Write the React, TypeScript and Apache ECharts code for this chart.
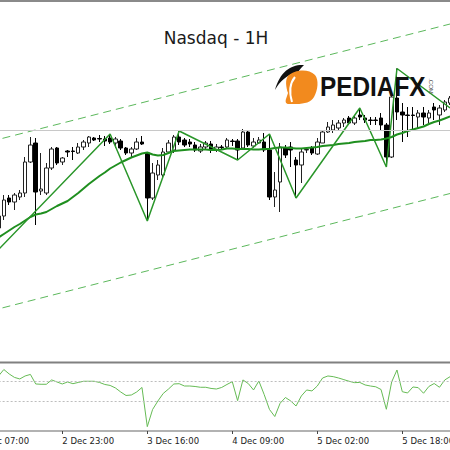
import React, { useEffect, useRef } from "react";
import * as echarts from "echarts";

// ---------- data ----------
const tickLabels = ["2 Dec 07:00", "2 Dec 23:00", "3 Dec 16:00", "4 Dec 09:00", "5 Dec 02:00", "5 Dec 18:00"];

function buildTimes(count: number): string[] {
  const out: string[] = [];
  let d = 2;
  let h = 7;
  while (out.length < count) {
    if (h !== 0) out.push(`${d} Dec ${String(h).padStart(2, "0")}:00`);
    h++;
    if (h === 24) {
      h = 0;
      d++;
    }
  }
  return out;
}
const categories = buildTimes(90);

// [open, close, low, high]
const candles: number[][] = [
  [21038, 21045, 21028.5, 21050], [21045, 21055, 21042, 21058], [21055, 21062, 21052, 21065],
  [21062, 21072, 21060, 21075], [21072, 21084, 21070, 21087], [21084, 21100, 21080, 21105],
  [21102, 21098, 21095, 21105], [21098, 21105, 21090, 21107], [21103, 21107, 21100, 21110],
  [21107, 21138, 21103, 21143], [21138, 21155, 21137, 21163], [21157, 21108, 21075, 21162],
  [21109, 21111, 21105, 21147], [21107, 21132, 21105, 21137], [21132, 21151, 21130, 21153],
  [21152, 21137, 21135, 21153], [21138, 21142, 21135, 21143], [21149, 21148, 21143, 21150],
  [21149, 21148.5, 21140, 21153], [21147, 21153, 21146, 21157], [21153, 21158, 21150, 21160],
  [21157, 21163, 21153, 21164], [21162, 21160, 21159, 21163], [21161.5, 21161, 21158, 21165],
  [21161, 21159, 21154, 21164], [21162, 21158, 21156, 21166], [21157, 21161, 21152, 21163],
  [21159, 21152, 21150, 21161], [21152, 21147, 21145, 21153], [21147, 21151, 21143, 21153],
  [21151, 21158, 21150, 21162], [21158, 21156, 21155, 21164], [21147, 21102, 21079, 21148],
  [21102, 21127, 21100, 21137], [21125, 21135, 21120, 21140], [21125, 21148, 21123, 21152],
  [21148, 21157, 21147, 21160], [21150, 21163, 21147, 21165], [21163, 21158, 21155, 21169],
  [21160, 21155, 21153, 21162], [21158, 21156, 21153, 21161], [21155, 21150, 21148, 21158],
  [21149, 21153, 21147, 21156], [21153, 21157, 21150, 21159], [21156, 21151, 21147, 21159],
  [21150, 21153, 21148, 21156], [21153, 21152.5, 21150, 21155], [21153, 21160, 21151, 21162],
  [21159, 21158.5, 21154, 21161], [21159, 21150, 21140, 21161], [21152, 21168, 21150, 21171],
  [21168, 21155, 21153, 21170], [21154, 21158, 21152, 21162], [21157, 21160, 21156, 21163],
  [21158, 21150, 21148, 21167], [21150, 21103, 21100, 21166], [21103, 21110, 21093, 21128],
  [21118, 21153, 21088, 21157], [21152, 21145, 21142, 21155], [21153, 21150, 21133, 21158],
  [21140, 21135, 21102, 21143], [21135, 21148, 21117, 21152], [21150, 21150.5, 21147, 21153],
  [21152, 21147, 21145, 21154], [21146, 21158, 21145, 21162], [21157, 21168, 21157, 21170],
  [21168, 21173, 21167, 21178], [21170, 21175, 21167, 21180], [21172, 21177, 21170, 21180],
  [21177, 21180, 21173, 21182], [21182, 21177, 21175, 21184], [21177, 21182, 21175, 21185],
  [21185, 21183, 21180, 21192], [21182, 21180, 21177, 21185], [21180, 21179.5, 21175, 21183],
  [21180, 21179.5, 21175, 21183], [21182, 21175, 21170, 21187], [21175, 21143, 21133, 21177],
  [21143, 21203, 21142, 21207], [21202, 21188, 21180, 21231.5], [21188, 21185, 21158, 21197],
  [21185, 21184.5, 21163, 21193], [21185, 21184.5, 21170, 21193], [21183, 21187, 21172, 21190],
  [21187, 21183, 21175, 21193], [21182, 21187, 21177, 21190], [21193, 21190, 21180, 21197],
  [21185, 21192, 21175, 21195], [21190, 21198, 21188, 21200], [21197, 21202, 21195, 21204],
];

const maValues = [
  21049, 21052, 21055, 21059, 21062.5, 21066, 21069.5, 21073, 21076, 21079.5,
  21083, 21085.5, 21086.5, 21088, 21091, 21094, 21096.5, 21099, 21103, 21107,
  21111.5, 21116, 21120, 21124, 21127.5, 21131.5, 21134.5, 21137.5, 21140, 21142.5,
  21144.5, 21146.5, 21147.5, 21145.5, 21144.5, 21145, 21147, 21149, 21149.5, 21150,
  21150.5, 21150.5, 21150.5, 21150.5, 21150, 21150, 21150.5, 21151.5, 21151.5, 21151,
  21151, 21151, 21150.5, 21150.5, 21151, 21151, 21152, 21152.5, 21152.5, 21152,
  21151.5, 21151.5, 21152, 21152.5, 21153, 21154, 21154.5, 21155, 21156, 21156.5,
  21157, 21158, 21158.5, 21159, 21160, 21160, 21160.5, 21161.5, 21163, 21165.5,
  21167, 21169, 21170.5, 21172, 21173.5, 21176, 21178, 21179.5, 21181.5, 21183.5,
];

// zigzag pivots: [bar index, price]
const zigzagPivots: [number, number][] = [
  [0, 21028.5], [25, 21166], [32, 21079], [38, 21169], [49, 21140], [55, 21166],
  [60, 21102], [72, 21192], [77, 21133], [79, 21231.5], [89, 21192],
];

const indicatorValues = [
  72, 74, 71, 73, 75.9, 82.6, 78.0, 74.4, 72.8, 75.9,
  77.5, 67.6, 67.3, 67.3, 71.8, 69.7, 67.6, 69.7, 67.9, 69.2,
  70.4, 70.4, 70.4, 69.2, 67.1, 66.1, 63.5, 59.3, 55.7, 56.2,
  59.3, 64.0, 23.4, 41.2, 50.0, 57.8, 62.4, 67.6, 67.9, 65.5,
  65.5, 65.0, 64.2, 64.2, 63.0, 62.4, 64.0, 67.1, 70.0, 50.3,
  71.8, 68.1, 61.4, 70.7, 56.7, 41.2, 33.9, 47.6, 53.6, 50.0,
  44.8, 55.2, 61.4, 60.4, 65.5, 73.8, 75.9, 75.2, 73.8, 72.1,
  70.4, 69.0, 69.2, 66.6, 65.5, 64.7, 61.9, 41.4, 69.7, 82.1,
  59.6, 58.3, 64.5, 63.8, 58.0, 65.0, 68.1, 64.2, 71.8, 75.2,
];
const indicatorLevels = [70, 50];

const channelUpper = [21155.2, 21276]; // first bar, last bar
const channelLower = [20985.7, 21106.5];
const levelPrice = 21170;

// ---------- logo shapes ----------
const ORANGE_D =
  "M14 14 C20 8 34 6 41 13 C45 18 44 28 40 35 C37 40 31 42 22 42 L15 42 C12 42 11 40 12 37 L14 31 C12 25 11 18 14 14 Z";
const SWOOSH_D =
  "M30 3 C18 2 6 9 1 28 C6 19 13 13 21 11 C16 16 13 23 14 30 C17 20 22 11 30 3 Z";
const CURVE_D = "M21 15 C16 21 15 30 18 40";
echarts.graphic.registerShape("pfxOrange", echarts.graphic.extendPath(ORANGE_D, {}));
echarts.graphic.registerShape("pfxSwoosh", echarts.graphic.extendPath(SWOOSH_D, {}));
echarts.graphic.registerShape("pfxCurve", echarts.graphic.extendPath(CURVE_D, {}));

export default function App() {
  const ref = useRef<HTMLDivElement>(null);
  useEffect(() => {
    if (!ref.current) return;
    const chart = echarts.init(ref.current, null, { renderer: "svg" });
    const last = categories.length - 1;
    const zigzagData = categories.map((_, i) => {
      const p = zigzagPivots.find((z) => z[0] === i);
      return p ? p[1] : "-";
    });
    const showTick = (_i: number, v: string) => tickLabels.includes(v);
    const gridLeft = -25.36;
    const gridWidth = 478.125;

    const option: any = {
      animation: false,
      backgroundColor: "#ffffff",
      grid: [
        { left: gridLeft, width: gridWidth, top: 2, height: 360, outerBoundsMode: "none", containLabel: false },
        { left: gridLeft, width: gridWidth, top: 364, height: 67, outerBoundsMode: "none", containLabel: false },
      ],
      xAxis: [
        { type: "category", gridIndex: 0, data: categories, boundaryGap: true, show: false },
        {
          type: "category",
          gridIndex: 1,
          data: categories,
          boundaryGap: true,
          axisLine: { show: true, lineStyle: { color: "#999999", width: 1.5 } },
          axisTick: { show: true, alignWithLabel: true, interval: showTick, length: 3, lineStyle: { color: "#444444" } },
          axisLabel: {
            interval: showTick,
            align: "left",
            margin: 5,
            fontSize: 8.5,
            fontFamily: "DejaVu Sans",
            color: "#222222",
            hideOverlap: false,
          },
          splitLine: { show: false },
        },
      ],
      yAxis: [
        { type: "value", gridIndex: 0, min: 20938, max: 21298, show: false },
        { type: "value", gridIndex: 1, min: 18.9, max: 88.3, show: false },
      ],
      series: [
        {
          type: "candlestick",
          xAxisIndex: 0,
          yAxisIndex: 0,
          data: candles,
          barWidth: 4,
          itemStyle: {
            color: "#ffffff",
            color0: "#000000",
            borderColor: "#222222",
            borderColor0: "#000000",
            borderWidth: 1,
          },
          markLine: {
            silent: true,
            symbol: "none",
            label: { show: false },
            lineStyle: { color: "#c8c8c8", width: 1, type: "solid" },
            data: [{ yAxis: levelPrice }],
          },
          z: 2,
        },
        {
          type: "line",
          xAxisIndex: 0,
          yAxisIndex: 0,
          data: maValues,
          showSymbol: false,
          lineStyle: { color: "#1f8f1f", width: 2 },
          z: 3,
        },
        {
          type: "line",
          xAxisIndex: 0,
          yAxisIndex: 0,
          data: zigzagData,
          connectNulls: true,
          showSymbol: false,
          lineStyle: { color: "#2a962a", width: 1.5 },
          z: 4,
        },
        {
          type: "line",
          xAxisIndex: 0,
          yAxisIndex: 0,
          data: [[categories[0], channelUpper[0]], [categories[last], channelUpper[1]]],
          showSymbol: false,
          lineStyle: { color: "#5cb85c", width: 1, type: [8, 5] },
          z: 1,
        },
        {
          type: "line",
          xAxisIndex: 0,
          yAxisIndex: 0,
          data: [[categories[0], channelLower[0]], [categories[last], channelLower[1]]],
          showSymbol: false,
          lineStyle: { color: "#5cb85c", width: 1, type: [8, 5] },
          z: 1,
        },
        {
          type: "line",
          xAxisIndex: 1,
          yAxisIndex: 1,
          data: indicatorValues,
          showSymbol: false,
          lineStyle: { color: "#66bb55", width: 1 },
          markLine: {
            silent: true,
            symbol: "none",
            label: { show: false },
            lineStyle: { color: "#bdbdbd", width: 1, type: [2, 2] },
            data: indicatorLevels.map((v) => ({ yAxis: v })),
          },
        },
      ],
      graphic: [
        { type: "line", shape: { x1: 0, y1: 1, x2: 450, y2: 1 }, style: { stroke: "#8a8a8a", lineWidth: 2 }, silent: true },
        { type: "line", shape: { x1: 0, y1: 362.5, x2: 450, y2: 362.5 }, style: { stroke: "#808080", lineWidth: 2 }, silent: true },
        {
          type: "text",
          x: 216,
          y: 38,
          style: { text: "Nasdaq - 1H", align: "center", verticalAlign: "middle", font: '17px "DejaVu Sans"', fill: "#1a1a1a" },
          silent: true,
        },
        { type: "pfxSwoosh", x: 274, y: 62, style: { fill: "#111111" }, silent: true, z: 10 },
        { type: "pfxOrange", x: 274, y: 62, style: { fill: "#f28a1e" }, silent: true, z: 10 },
        { type: "pfxCurve", x: 274, y: 62, style: { fill: "none", stroke: "#ffffff", lineWidth: 2 }, silent: true, z: 11 },
        {
          type: "text",
          x: 320,
          y: 86,
          scaleX: 0.87,
          style: { text: "PEDIAFX", align: "left", verticalAlign: "middle", font: 'bold 28px "Liberation Sans"', fill: "#111111" },
          silent: true,
          z: 10,
        },
        {
          type: "text",
          x: 431,
          y: 86,
          rotation: -Math.PI / 2,
          style: { text: ".COM", align: "center", verticalAlign: "middle", font: '6px "Liberation Sans"', fill: "#555555" },
          silent: true,
          z: 10,
        },
      ],
    };
    chart.setOption(option);
    return () => chart.dispose();
  }, []);
  return (
    <div
      ref={ref}
      style={{ position: "fixed", left: 0, top: 0, width: 450, height: 450, background: "#ffffff" }}
    />
  );
}
